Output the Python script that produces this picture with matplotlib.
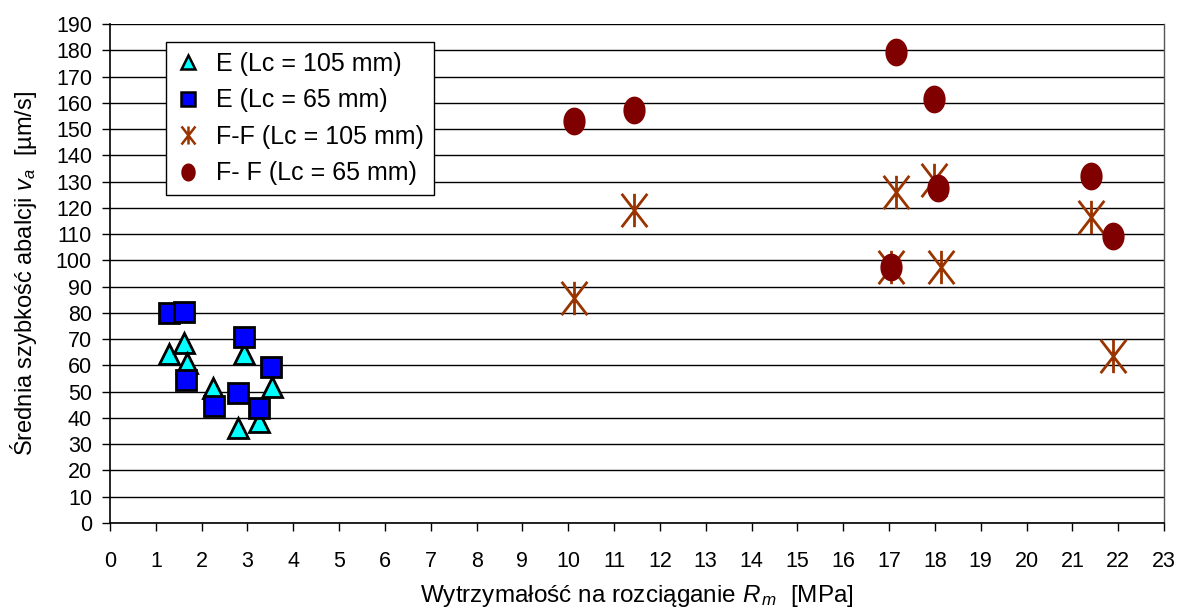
import matplotlib
matplotlib.use("Agg")
import matplotlib.pyplot as plt
from matplotlib.path import Path
import numpy as np

plt.rcParams['font.family'] = ['Liberation Sans', 'DejaVu Sans']
plt.rcParams['mathtext.fontset'] = 'custom'
plt.rcParams['mathtext.rm'] = 'Liberation Sans'
plt.rcParams['mathtext.it'] = 'Liberation Sans:italic'

# Data
e105_x = [1.29, 1.61, 1.67, 2.25, 2.92, 2.80, 3.25, 3.53]
e105_y = [64.4, 68.4, 60.8, 51.3, 64.4, 36.1, 38.6, 51.9]
e65_x = [1.29, 1.61, 1.66, 2.27, 2.92, 2.79, 3.25, 3.51]
e65_y = [79.9, 80.5, 54.5, 44.6, 70.9, 49.4, 43.9, 59.5]
ff105_x = [10.12, 11.43, 17.15, 17.98, 17.04, 18.13, 21.40, 21.88]
ff105_y = [85.7, 119.2, 126.0, 130.6, 97.5, 97.5, 116.5, 63.6]
ff65_x = [10.12, 11.43, 17.15, 17.98, 17.04, 18.07, 21.40, 21.88]
ff65_y = [153.1, 157.3, 179.4, 161.5, 97.5, 127.6, 132.1, 109.3]

labels = ['E (Lc = 105 mm)', 'E (Lc = 65 mm)', 'F-F (Lc = 105 mm)', 'F- F (Lc = 65 mm)']
x_ticks = list(range(0, 24))
y_ticks = list(range(0, 191, 10))

# custom markers
t = np.linspace(0, 2*np.pi, 60)
ell = Path(np.column_stack([np.cos(t)*0.8, np.sin(t)]), closed=True)
ast_verts = [(0, -1), (0, 1), (-0.77, -1), (0.77, 1), (-0.77, 1), (0.77, -1)]
ast_codes = [Path.MOVETO, Path.LINETO] * 3
ast = Path(ast_verts, ast_codes)

fig = plt.figure(figsize=(11.81, 6.08), dpi=100)
ax = fig.add_axes([110/1181, 1-523/608, (1164-110)/1181, (523-24)/608])

ax.set_axisbelow(True)
ax.yaxis.grid(True, color='black', linewidth=1.0)

ax.plot(e105_x, e105_y, linestyle='none', marker='^', markersize=15,
        markerfacecolor='#00FFFF', markeredgecolor='black', markeredgewidth=2, label=labels[0], zorder=3)
ax.plot(e65_x, e65_y, linestyle='none', marker='s', markersize=14,
        markerfacecolor='#0000FF', markeredgecolor='black', markeredgewidth=2, label=labels[1], zorder=4)
ax.plot(ff105_x, ff105_y, linestyle='none', marker=ast, markersize=24,
        markerfacecolor='none', markeredgecolor='#993300', markeredgewidth=2, label=labels[2], zorder=5)
ax.plot(ff65_x, ff65_y, linestyle='none', marker=ell, markersize=20,
        markerfacecolor='#800000', markeredgecolor='#800000', markeredgewidth=0, label=labels[3], zorder=6)

ax.set_xlim(0, 23)
ax.set_ylim(0, 190)
ax.set_xticks(x_ticks)
ax.set_yticks(y_ticks)
ax.tick_params(axis='both', labelsize=15.5, direction='out', length=6, width=1, color='black')
ax.tick_params(axis='y', pad=7)
ax.tick_params(axis='x', pad=14)

for s in ['left', 'bottom']:
    ax.spines[s].set_color('black')
    ax.spines[s].set_linewidth(1.2)
ax.spines['top'].set_visible(False)
ax.spines['right'].set_color('#555555')
ax.spines['right'].set_linewidth(1.0)

ax.set_xlabel('Wytrzymałość na rozciąganie $R_{\\,m}$  [MPa]', fontsize=17.5)
ax.xaxis.set_label_coords(0.5, (523 - 583) / 499)
ax.set_ylabel('Średnia szybkość abalcji $v_a$  [µm/s]', fontsize=17, labelpad=12)

leg = ax.legend(loc='upper left', bbox_to_anchor=(0.053, 0.964), fontsize=18,
                frameon=True, fancybox=False, shadow=False, borderpad=0.4,
                labelspacing=0.5, handlelength=1.0, handletextpad=0.6,
                borderaxespad=0)
hs = leg.legend_handles
hs[0].set_markersize(10); hs[0].set_markeredgewidth(1.8)
hs[1].set_markersize(10); hs[1].set_markeredgewidth(1.8)
hs[2].set_markersize(13); hs[2].set_markeredgewidth(1.8)
hs[3].set_markersize(13)
leg.get_frame().set_edgecolor('black')
leg.get_frame().set_linewidth(1.0)
leg.get_frame().set_alpha(1)

fig.savefig('out.png', dpi=100)
